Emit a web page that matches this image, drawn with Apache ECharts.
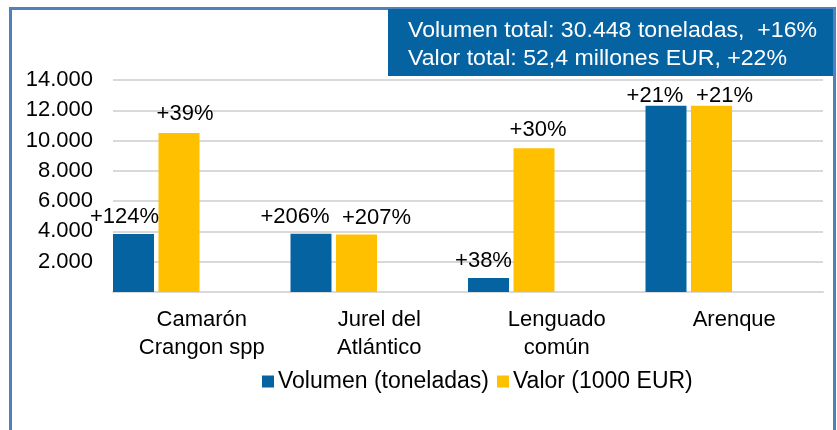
<!DOCTYPE html>
<html>
<head>
<meta charset="utf-8">
<script src="https://cdn.jsdelivr.net/npm/echarts@6/dist/echarts.min.js"></script>
<style>
  html, body { margin: 0; padding: 0; background: #fff; }
  #chart { width: 837px; height: 430px; }
</style>
</head>
<body>
<div id="chart"></div>
<script>
const categories = ['Camarón\nCrangon spp', 'Jurel del\nAtlántico', 'Lenguado\ncomún', 'Arenque']
const volumen = [3830, 3840, 920, 12300]      // toneladas
const valor = [10500, 3800, 9500, 12300]      // 1000 EUR
const volumenCambio = ['+124%', '+206%', '+38%', '+21%']
const valorCambio = ['+39%', '+207%', '+30%', '+21%']
const yTickLabels = ['', '2.000', '4.000', '6.000', '8.000', '10.000', '12.000', '14.000']
const totales = ['Volumen total: 30.448 toneladas,  +16%', 'Valor total: 52,4 millones EUR, +22%']

const BLUE = '#0563a2'
const YELLOW = '#ffc000'
const FONT = 'Liberation Sans, Arial, sans-serif'

// desplazamiento manual de etiquetas para que no se pisen
const volShift = [[-9, 0], [-16, 0], [-5, 0], [-11, 7]]
const valShift = [[6, -2], [20, 0], [4, -1], [13, 7]]

function withLabels(values, texts, shift) {
  return values.map((v, i) => ({
    value: v,
    label: { formatter: texts[i], offset: shift[i] }
  }))
}

const chart = echarts.init(document.getElementById('chart'))

const labelStyle = {
  show: true,
  position: 'top',
  distance: 6,
  fontSize: 22,
  fontFamily: FONT,
  color: '#000'
}

chart.setOption({
  animation: false,
  grid: { left: 113, right: 14, top: 80, bottom: 138 },
  legend: {
    left: 262,
    top: 370,
    padding: 0,
    itemWidth: 12,
    itemHeight: 12,
    itemGap: 8,
    data: ['Volumen (toneladas)', 'Valor (1000 EUR)'],
    icon: 'rect',
    textStyle: { fontSize: 23, fontFamily: FONT, color: '#000', padding: [0, 0, 0, -1] }
  },
  xAxis: {
    type: 'category',
    data: categories,
    axisTick: { show: false },
    axisLine: { lineStyle: { color: '#d9d9d9', width: 2 } },
    axisLabel: {
      margin: 14,
      fontSize: 22,
      lineHeight: 28,
      fontFamily: FONT,
      color: '#000',
      interval: 0
    }
  },
  yAxis: {
    type: 'value',
    min: 0,
    max: 14000,
    interval: 2000,
    axisLine: { show: false },
    axisTick: { show: false },
    splitLine: { lineStyle: { color: '#d9d9d9', width: 2 } },
    axisLabel: {
      margin: 20,
      fontSize: 22,
      fontFamily: FONT,
      color: '#000',
      formatter: v => yTickLabels[Math.round(v / 2000)]
    }
  },
  series: [
    {
      name: 'Volumen (toneladas)',
      type: 'bar',
      barCategoryGap: '0%',
      barGap: '11%',
      itemStyle: { color: BLUE },
      label: labelStyle,
      data: withLabels(volumen, volumenCambio, volShift)
    },
    {
      name: 'Valor (1000 EUR)',
      type: 'bar',
      itemStyle: { color: YELLOW },
      label: labelStyle,
      data: withLabels(valor, valorCambio, valShift)
    },
    // huecos vacíos (como en el gráfico original)
    { name: 'hueco1', type: 'bar', data: categories.map(() => '-') },
    { name: 'hueco2', type: 'bar', data: categories.map(() => '-') }
  ],
  graphic: [
    {
      type: 'rect',
      shape: { x: 10.5, y: 8.5, width: 824, height: 450 },
      style: { fill: 'none', stroke: '#4f81bd', lineWidth: 3 },
      silent: true
    },
    {
      type: 'rect',
      shape: { x: 388, y: 9, width: 445, height: 67 },
      style: { fill: BLUE },
      silent: true
    },
    {
      type: 'text',
      x: 408,
      y: 17,
      scaleX: 1.05,
      style: {
        text: totales.join('\n'),
        fill: '#fff',
        fontSize: 22,
        lineHeight: 28,
        fontFamily: FONT
      },
      silent: true
    }
  ]
})
</script>
</body>
</html>
